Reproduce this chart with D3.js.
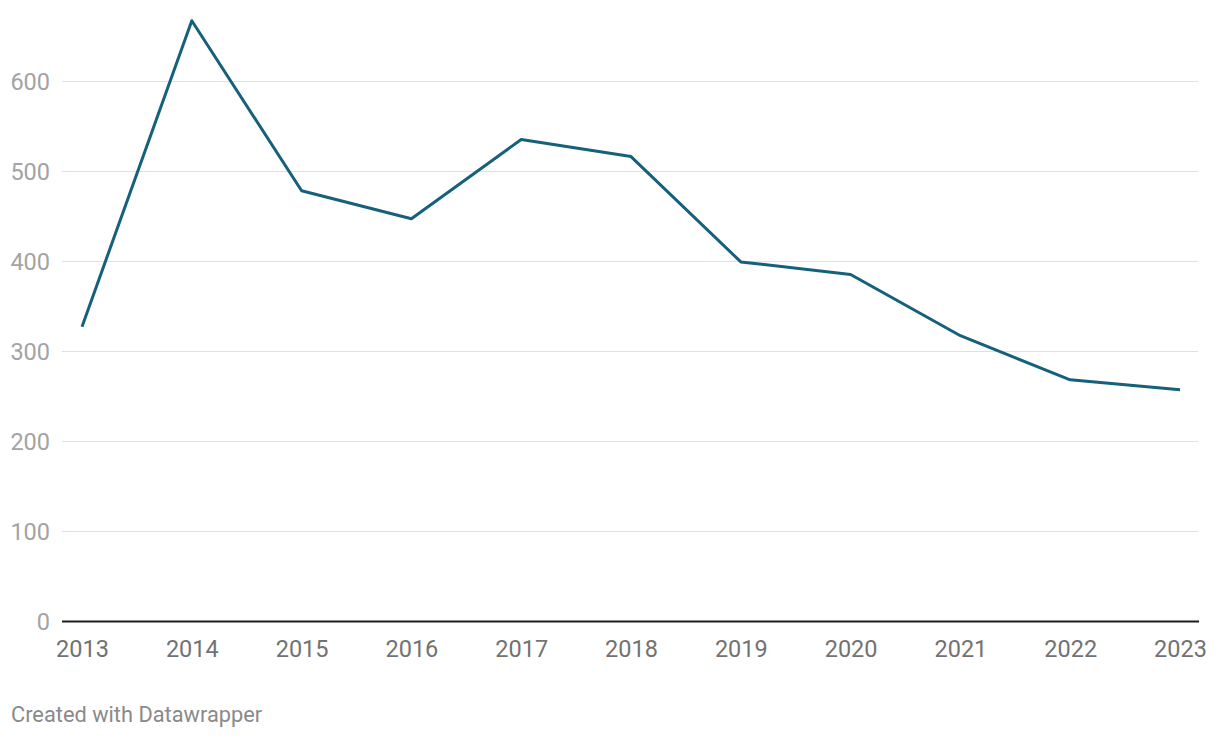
<!DOCTYPE html>
<html><head><meta charset="utf-8">
<script src="https://cdn.jsdelivr.net/npm/d3@7"></script>
<style>body{margin:0;background:#fff;}svg{display:block;font-family:Roboto,sans-serif;}</style>
</head><body><svg id="c" width="1220" height="738"></svg>
<script>
const years = ["2013","2014","2015","2016","2017","2018","2019","2020","2021","2022","2023"];
const values = [327, 667, 478, 447, 535, 516, 399, 385, 317, 268, 257];
const yTicks = [0, 100, 200, 300, 400, 500, 600];

(function(){
const svg = d3.select("#c");
const mLeft = 62, mRight = 1198, mBottom = 621;
const x = d3.scalePoint().domain(years).range([82, 1180]);
const y = d3.scaleLinear().domain([0, 600]).range([mBottom, 81]);

const gy = svg.append("g").attr("transform", `translate(${mLeft},0)`)
  .call(d3.axisLeft(y).tickValues(yTicks).tickSize(-(mRight-mLeft)).tickFormat(d3.format("d")));
gy.select(".domain").remove();
gy.selectAll(".tick line").attr("stroke", "#e0e0e0").attr("stroke-width", 1);
gy.selectAll(".tick text").attr("x", -12).attr("dy", "0.35em").attr("fill", "#a3a3a3")
  .style("font-size", "23.5px").style("font-family", "Roboto");

svg.append("line").attr("x1", mLeft).attr("x2", mRight+1).attr("y1", y(0)+0.5).attr("y2", y(0)+0.5)
  .attr("stroke", "#1d1d1d").attr("stroke-width", 2);

const gx = svg.append("g").attr("transform", `translate(0,${mBottom})`)
  .call(d3.axisBottom(x).tickSize(0));
gx.select(".domain").remove();
gx.selectAll(".tick text").attr("y", 36).attr("dy", 0).attr("fill", "#727272")
  .style("font-size", "23.5px").style("font-family", "Roboto");

const line = d3.line().x((d,i)=>x(years[i])).y(d=>y(d));
svg.append("path").datum(values).attr("d", line).attr("fill", "none")
  .attr("stroke", "#15607a").attr("stroke-width", 3).attr("stroke-linejoin", "round");

svg.append("text").attr("x", 11).attr("y", 722).text("Created with Datawrapper")
  .attr("fill", "#8a8a8a").style("font-size", "21.8px").style("font-family", "Roboto");
})();
</script></body></html>
